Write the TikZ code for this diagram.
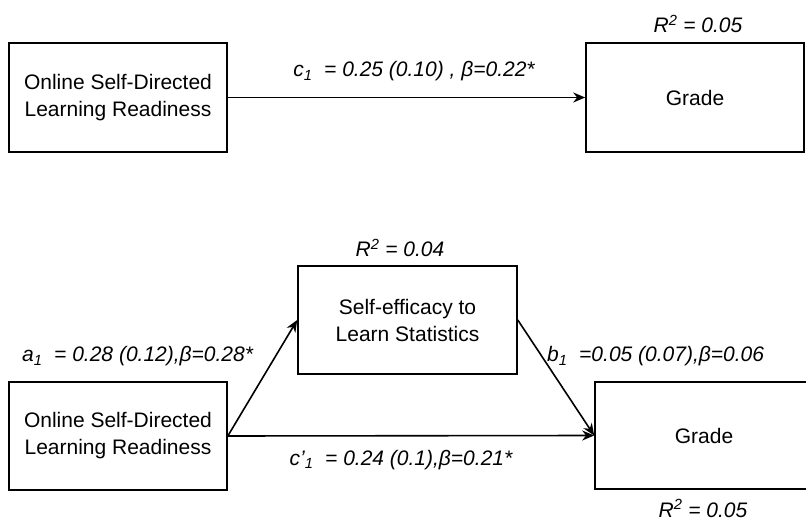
\documentclass[tikz,border=0pt]{standalone}
\usepackage{fontspec}
\setmainfont{Liberation Sans}
\usetikzlibrary{arrows.meta}
\begin{document}
\begin{tikzpicture}[x=1pt,y=-1pt,
  varbox/.style={draw=black,line width=1.6pt,fill=white,inner sep=0pt,
    align=center,font=\fontsize{21}{27}\selectfont},
  coef/.style={font=\fontsize{21}{27}\selectfont\itshape,inner sep=0pt},
  path/.style={line width=1.6pt,-{Stealth[length=12pt,width=10pt]}}]
\clip (0,0) rectangle (806,521);
\fill[white] (0,0) rectangle (806,521);

% total effect model
\node[varbox,minimum width=218pt,minimum height=109pt] (src1) at (118,97.5)
  {Online Self-Directed\\Learning Readiness};
\node[varbox,minimum width=218pt,minimum height=109pt] (out1) at (695,97.5) {Grade};
\node[coef,anchor=base] (r2a) at (698,33) {R\textsuperscript{2} = 0.05};
\draw[path] (src1.east) -- (out1.west);
\node[coef,anchor=base] (c1) at (414,77)
  {c\textsubscript{1}\ \ = 0.25 (0.10) , β=0.22*};

% mediation model
\node[varbox,minimum width=219pt,minimum height=108pt] (med) at (407.5,320)
  {Self-efficacy to\\Learn Statistics};
\node[varbox,minimum width=218pt,minimum height=108pt] (src2) at (118,436)
  {Online Self-Directed\\Learning Readiness};
\node[varbox,minimum width=218pt,minimum height=107pt] (out2) at (704,435.5) {Grade};
\node[coef,anchor=base] (r2b) at (400,257) {R\textsuperscript{2} = 0.04};
\node[coef,anchor=base] (r2c) at (703,517) {R\textsuperscript{2} = 0.05};

\draw[path] (src2.east) -- (med.west);
\draw[path] (med.east) -- (out2.west);
\draw[path] (src2.east) -- (out2.west);

\node[coef,anchor=base west] (a1) at (22,362)
  {a\textsubscript{1}\ \ = 0.28 (0.12),β=0.28*};
\node[coef,anchor=base west] (b1) at (547,362)
  {b\textsubscript{1}\ \ =0.05 (0.07),β=0.06};
\node[coef,anchor=base] (c1p) at (401,465)
  {c'\textsubscript{1}\ \ = 0.24 (0.1),β=0.21*};
\end{tikzpicture}
\end{document}
